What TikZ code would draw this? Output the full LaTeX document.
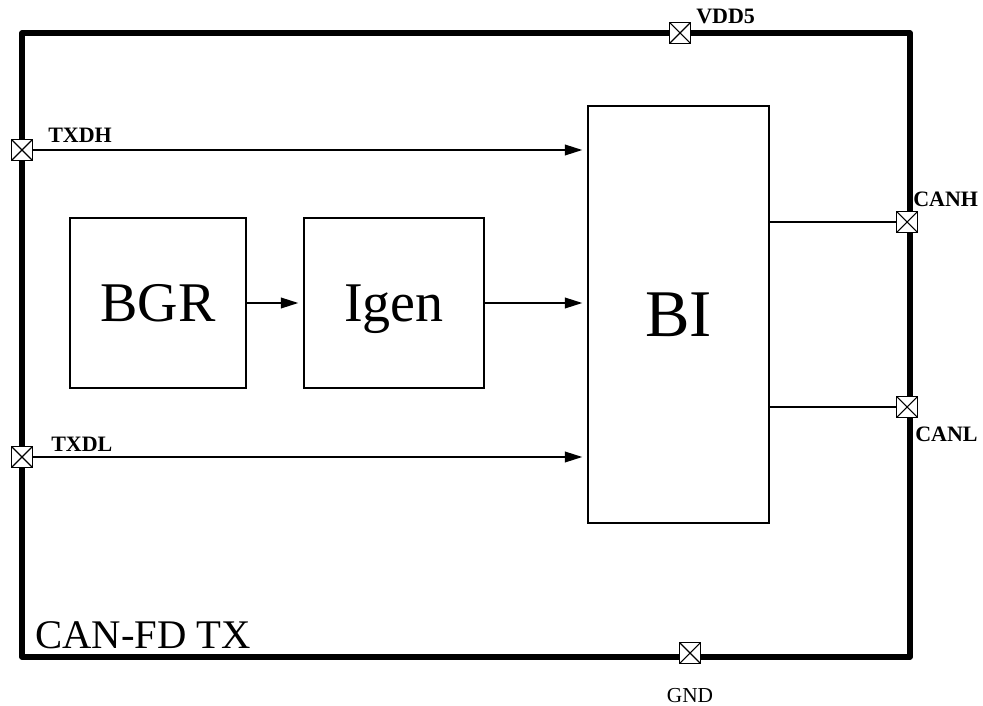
\documentclass[tikz,border=0pt]{standalone}
\usepackage{fontspec}
\setmainfont{Liberation Serif}
\usetikzlibrary{arrows.meta,calc}

\tikzset{
  % one unit = one pixel of a 983 x 706 canvas, y pointing down
  x=0.75pt, y=-0.75pt,
  frame/.style={line width=3.9pt, line join=round},
  blockbox/.style={draw, line width=1.1pt, inner sep=0pt, fill=white},
  sig/.style={line width=1.1pt},
  arr/.style={sig, -{Triangle[length=13pt,width=8pt]}, shorten >=3.75pt},
  pad/.style={draw, line width=1.1pt, fill=white, minimum size=15.5pt, inner sep=0pt,
    path picture={\draw[line width=0.8pt]
      (path picture bounding box.south west) -- (path picture bounding box.north east)
      (path picture bounding box.north west) -- (path picture bounding box.south east);}},
  pinlabel/.style={font=\fontsize{16.5}{18}\selectfont\bfseries, inner sep=0pt},
  bigtext/.style={font=\fontsize{42}{46}\selectfont, text depth=0pt},
}

\begin{document}
\begin{tikzpicture}
\useasboundingbox (0,0) rectangle (983,706);

% outer boundary of the transmitter
\coordinate (fnw) at (22,33);
\coordinate (fse) at (910,657);
\draw[frame] (fnw) rectangle (fse);

% functional blocks
\node[blockbox, minimum width=132pt, minimum height=127.5pt, bigtext] (bgr) at (158,303) {BGR};
\node[blockbox, minimum width=135pt, minimum height=127.5pt, bigtext] (igen) at (394,303) {Igen};
\node[blockbox, minimum width=135.75pt, minimum height=312.75pt,
      font=\fontsize{50}{54}\selectfont] (bi) at (678.5,314.5) {BI};

% pads on the boundary
\node[pad] (txdh) at (22,150) {};
\node[pad] (txdl) at (22,457) {};
\node[pad] (vdd) at (680,33) {};
\node[pad] (canh) at (907,222) {};
\node[pad] (canl) at (907,407) {};
\node[pad] (gnd) at (690,653) {};

% pad names
\node[pinlabel, anchor=base west] (ltxdh) at (48,143) {TXDH};
\node[pinlabel, anchor=base west] (ltxdl) at (51,451) {TXDL};
\node[pinlabel, anchor=base west] (lvdd) at (696,24) {VDD5};
\node[pinlabel, anchor=base west] (lcanh) at (913,207) {CANH};
\node[pinlabel, anchor=base west] (lcanl) at (915,441) {CANL};
\node[inner sep=0pt, anchor=base, font=\fontsize{16}{18}\selectfont] (lgnd) at (690,702) {GND};

% block title
\node[inner sep=0pt, anchor=base west, font=\fontsize{30.5}{34}\selectfont] (title) at (35,648) {CAN-FD TX};

% signal paths
\draw[arr] (txdh.east) -- (txdh.east -| bi.west);
\draw[arr] (txdl.east) -- (txdl.east -| bi.west);
\draw[arr] (bgr.east) -- (igen.west);
\draw[arr] (igen.east) -- (igen.east -| bi.west);
\draw[sig] (canh.west -| bi.east) -- (canh.west);
\draw[sig] (canl.west -| bi.east) -- (canl.west);
\end{tikzpicture}
\end{document}
